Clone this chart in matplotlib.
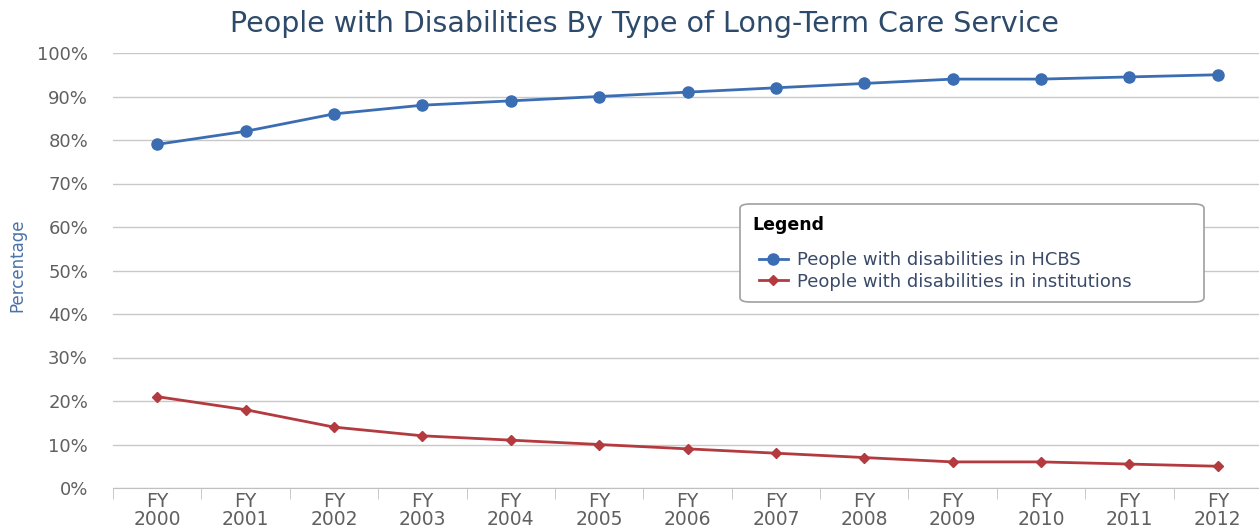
import numpy as np
import matplotlib.pyplot as plt
from matplotlib.patches import FancyBboxPatch

years = ['2000', '2001', '2002', '2003', '2004', '2005', '2006',
         '2007', '2008', '2009', '2010', '2011', '2012']
hcbs = [79, 82, 86, 88, 89, 90, 91, 92, 93, 94, 94, 94.5, 95]
inst = [21, 18, 14, 12, 11, 10, 9, 8, 7, 6, 6, 5.5, 5]
yticks = [0, 10, 20, 30, 40, 50, 60, 70, 80, 90, 100]

plt.rcParams['font.family'] = ['DejaVu Sans']

fig = plt.figure(figsize=(12.59, 5.29), dpi=100)
ax = fig.add_axes([113/1259, 1 - 488/529, (1262 - 113)/1259, (488 - 53)/529])

x = np.arange(len(years))
ax.plot(x, hcbs, color='#3b6db3', lw=2, marker='o', ms=8, zorder=3,
        label='People with disabilities in HCBS')
ax.plot(x, inst, color='#b33a3f', lw=2, marker='D', ms=5, zorder=3,
        label='People with disabilities in institutions')

ax.set_xlim(-0.5, 12.5)
ax.set_ylim(0, 100)
ax.set_yticks(yticks)
ax.set_yticklabels([f'{v}%' for v in yticks])
ax.grid(axis='y', color='#c8c8c8', lw=1)
ax.set_axisbelow(True)

# category labels centred, tick marks on the boundaries
ax.set_xticks(x)
ax.set_xticklabels([f'FY\n{y}' for y in years], fontsize=13.5, color='#606060',
                   linespacing=0.95)
ax.tick_params(axis='x', length=0, pad=3)
ax.set_xticks(np.arange(-0.5, 12.6, 1), minor=True)
ax.tick_params(axis='x', which='minor', length=8, color='#c0c0c0')
ax.tick_params(axis='y', length=0, labelsize=13, labelcolor='#606060', pad=18)

for s in ['top', 'right', 'left']:
    ax.spines[s].set_visible(False)
ax.spines['bottom'].set_color('#c0c0c0')

ax.set_ylabel('Percentage', color='#4a72a8', fontsize=12)
ax.yaxis.set_label_coords((26 - 113)/1149, (488 - 265)/435)
fig.text(644/1259, 1 - 24/529, 'People with Disabilities By Type of Long-Term Care Service',
         ha='center', va='center', fontsize=20.5, color='#2d4a6b')

# legend box
box = FancyBboxPatch((740/1259, 1 - 302/529), (1204 - 740)/1259, (302 - 204)/529,
                     boxstyle='round,pad=0,rounding_size=0.008',
                     transform=fig.transFigure, fc='white', ec='#a0a0a0', lw=1.2,
                     zorder=5, clip_on=False)
ax.add_patch(box)
ax.text(752/1259, 1 - 225/529, 'Legend', fontsize=12.5, fontweight='bold',
        color='black', va='center', zorder=6, transform=fig.transFigure)
leg = ax.legend(loc='upper left', bbox_to_anchor=(750/1259, 1 - 242/529),
                bbox_transform=fig.transFigure, frameon=False, fontsize=13,
                handlelength=1.6, handletextpad=0.5, labelspacing=0.2,
                labelcolor='#3a4a68', borderpad=0)
leg.set_zorder(7)

plt.savefig('out.png')
